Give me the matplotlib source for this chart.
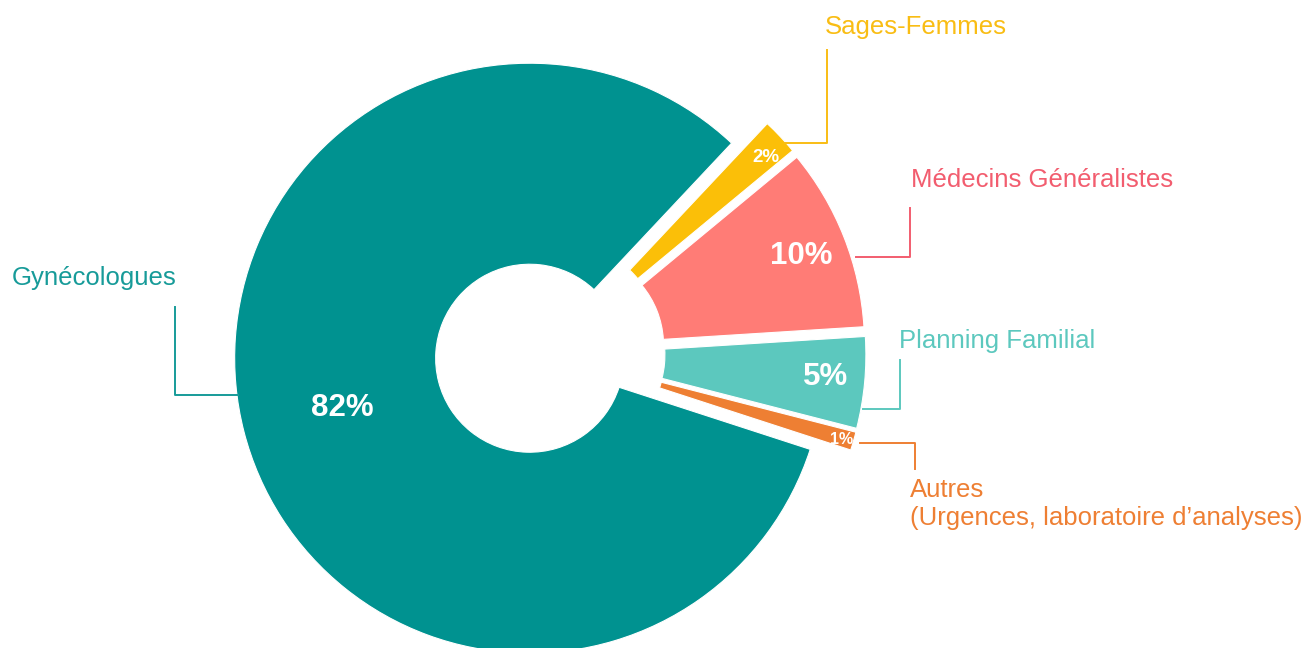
import numpy as np
import matplotlib
matplotlib.use("Agg")
import matplotlib.pyplot as plt

plt.rcParams['font.family'] = ['Liberation Sans', 'DejaVu Sans']

# Data
categories = ["Gynécologues", "Autres\n(Urgences, laboratoire d\u2019analyses)",
              "Planning Familial", "Médecins Généralistes", "Sages-Femmes"]
values = [82, 1, 5, 10, 2]
wedge_colors = ["#009290", "#EE7F33", "#5CC8BE", "#FF7C76", "#FBBF08"]
label_colors = ["#179B99", "#EE7F33", "#5CC8BE", "#F25D6F", "#F9BD14"]

W, H = 1307, 648
fig = plt.figure(figsize=(W / 100, H / 100), dpi=100)
ax = fig.add_axes([0, 0, 1, 1])

def Y(y):
    return H - y

R = 295
gap = 21
wedges, _ = ax.pie(values, colors=wedge_colors, startangle=46.8, counterclock=True,
                   center=(550, Y(353)), radius=R,
                   explode=[gap] * len(values),
                   wedgeprops=dict(width=201, edgecolor='white', linewidth=0.8))
ax.set_xlim(0, W)
ax.set_ylim(0, H)
ax.set_aspect('equal')
ax.axis('off')

# percentage labels inside wedges
pct_dist = [0.658, 0.961, 0.868, 0.841, 0.918]
pct_size = [22.5, 11.5, 22.5, 22.5, 13.5]
pct_off = [0.5, -0.4, 0.5, -0.5, -1.1]
for w, v, d, s, o in zip(wedges, values, pct_dist, pct_size, pct_off):
    th = np.deg2rad((w.theta1 + w.theta2) / 2 + o)
    cx, cy = w.center
    ax.text(cx + d * R * np.cos(th), cy + d * R * np.sin(th), f"{v}%",
            color='white', fontsize=s, fontweight='bold', ha='center', va='center')

# leader lines and category labels
lw = 1.4
# Gynécologues
ax.plot([175, 175, 238], [Y(307), Y(395), Y(395)], color=label_colors[0], lw=lw)
ax.text(12, Y(278), categories[0], color=label_colors[0], fontsize=18.5,
        ha='left', va='center')
# Sages-Femmes
ax.plot([785, 827, 827], [Y(143), Y(143), Y(50)], color=label_colors[4], lw=lw)
ax.text(825, Y(27), categories[4], color=label_colors[4], fontsize=18.5,
        ha='left', va='center')
# Médecins Généralistes
ax.plot([856, 910, 910], [Y(257), Y(257), Y(208)], color=label_colors[3], lw=lw)
ax.text(911, Y(180), categories[3], color=label_colors[3], fontsize=18.5,
        ha='left', va='center')
# Planning Familial
ax.plot([863, 900, 900], [Y(409), Y(409), Y(360)], color=label_colors[2], lw=lw)
ax.text(899, Y(341), categories[2], color=label_colors[2], fontsize=18.5,
        ha='left', va='center')
# Autres
ax.plot([860, 915, 915], [Y(443), Y(443), Y(469)], color=label_colors[1], lw=lw)
ax.text(910, Y(504), categories[1], color=label_colors[1], fontsize=18.5,
        ha='left', va='center', linespacing=1.25)

fig.savefig("out.png", dpi=100, facecolor='white')
